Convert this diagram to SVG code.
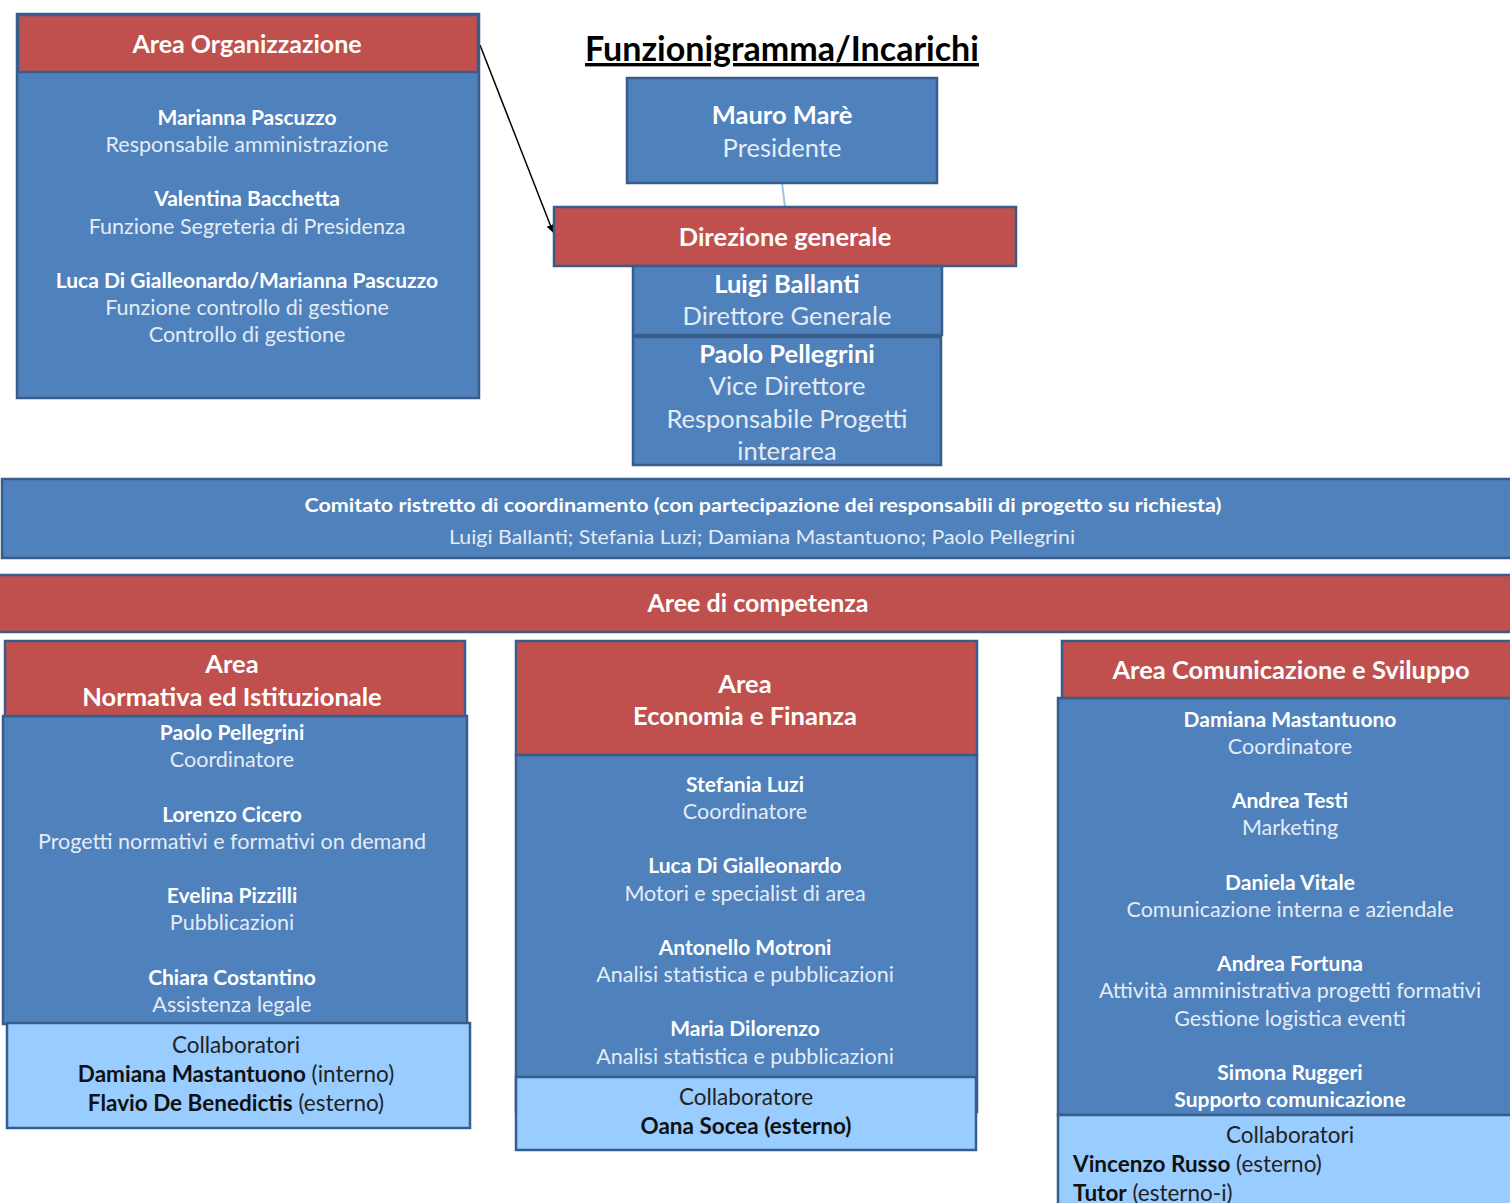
<svg xmlns="http://www.w3.org/2000/svg" width="1510" height="1203" viewBox="0 0 1510 1203">
<style>
text{font-family:Lato,"Open Sans","Liberation Sans",sans-serif;text-anchor:middle}
.blue{fill:#4F81BD;stroke:#385D8A;stroke-width:2.5}
.red{fill:#C0504D;stroke:#385D8A;stroke-width:2.5}
.lb{fill:#99CCFF;stroke:#385D8A;stroke-width:2.5}
.h{fill:#fff;font-weight:bold;font-size:25px}
.hb{fill:#fff;font-weight:bold;font-size:25.5px}
.hr{fill:#E4ECF6;font-size:25.5px}
.n{fill:#fff;font-weight:bold;font-size:21px}
.r{fill:#E4ECF6;font-size:21.5px}
.c{fill:#222;font-size:22.5px}
.cb{fill:#111;font-weight:bold;font-size:22.5px}
</style>
<defs>
<marker id="arr" viewBox="0 0 10 10" refX="9" refY="5" markerWidth="8" markerHeight="8" orient="auto" markerUnits="userSpaceOnUse">
<path d="M0,0 L10,5 L0,10 z" fill="#000"/>
</marker>
</defs>
<rect width="1510" height="1203" fill="#fff"/>
<text x="782" y="61" style="font-weight:bold;font-size:34px;fill:#000;text-decoration:underline">Funzionigramma/Incarichi</text>
<g id="connectors">
<line x1="480" y1="45" x2="553" y2="232" stroke="#000" stroke-width="1.5" marker-end="url(#arr)"/>
<line x1="782" y1="183" x2="785" y2="207" stroke="#9DC3E6" stroke-width="2"/>
</g>
<g id="area-organizzazione">
<rect class="blue" x="17" y="14" width="462" height="384"/>
<rect class="red" x="18" y="15" width="460" height="57"/>
<text class="h" x="247" y="53">Area Organizzazione</text>
<text class="n" x="247" y="125">Marianna Pascuzzo</text>
<text class="r" x="247" y="152">Responsabile amministrazione</text>
<text class="n" x="247" y="206">Valentina Bacchetta</text>
<text class="r" x="247" y="234">Funzione Segreteria di Presidenza</text>
<text class="n" x="247" y="288">Luca Di Gialleonardo/Marianna Pascuzzo</text>
<text class="r" x="247" y="315">Funzione controllo di gestione</text>
<text class="r" x="247" y="342">Controllo di gestione</text>
</g>
<g id="presidente">
<rect class="blue" x="627" y="78" width="310" height="105"/>
<text class="hb" x="782" y="124">Mauro Marè</text>
<text class="hr" x="782" y="157">Presidente</text>
</g>
<g id="direzione-generale">
<rect class="red" x="554" y="207" width="462" height="59"/>
<text class="hb" x="785" y="246">Direzione generale</text>
</g>
<g id="direttore-generale">
<rect class="blue" x="633" y="266" width="309" height="69"/>
<text class="hb" x="787" y="293">Luigi  Ballanti</text>
<text class="hr" x="787" y="325">Direttore Generale</text>
</g>
<g id="vice-direttore">
<rect class="blue" x="633" y="337" width="308" height="128"/>
<text class="hb" x="787" y="363">Paolo Pellegrini</text>
<text class="hr" x="787" y="395">Vice Direttore</text>
<text class="hr" x="787" y="428">Responsabile Progetti</text>
<text class="hr" x="787" y="460">interarea</text>
</g>
<g id="comitato">
<rect class="blue" x="2" y="479" width="1510" height="79"/>
<text class="n" x="763" y="512" style="font-size:19px" textLength="917" lengthAdjust="spacingAndGlyphs">Comitato ristretto di coordinamento (con partecipazione dei responsabili di progetto su richiesta)</text>
<text class="r" x="762" y="544" style="font-size:19px" textLength="626" lengthAdjust="spacingAndGlyphs">Luigi Ballanti; Stefania Luzi;  Damiana Mastantuono; Paolo Pellegrini</text>
</g>
<g id="aree-competenza">
<rect class="red" x="-2" y="575" width="1514" height="57"/>
<text class="h" x="758" y="612">Aree di competenza</text>
</g>
<g id="area-normativa">
<rect class="blue" x="3" y="716" width="464" height="308"/>
<rect class="red" x="5" y="641" width="460" height="75"/>
<text class="hb" x="232" y="673">Area</text>
<text class="hb" x="232" y="706">Normativa ed Istituzionale</text>
<text class="n" x="232" y="740">Paolo Pellegrini</text>
<text class="r" x="232" y="767">Coordinatore</text>
<text class="n" x="232" y="822">Lorenzo Cicero</text>
<text class="r" x="232" y="849">Progetti normativi e formativi on demand</text>
<text class="n" x="232" y="903">Evelina Pizzilli</text>
<text class="r" x="232" y="930">Pubblicazioni</text>
<text class="n" x="232" y="985">Chiara Costantino</text>
<text class="r" x="232" y="1012">Assistenza legale</text>
<rect class="lb" x="7" y="1023" width="463" height="105"/>
<text class="c" x="236" y="1053">Collaboratori</text>
<text class="c" x="236" y="1082"><tspan class="cb">Damiana Mastantuono</tspan> (interno)</text>
<text class="c" x="236" y="1111"><tspan class="cb">Flavio De Benedictis</tspan> (esterno)</text>
</g>
<g id="area-economia">
<rect class="blue" x="516" y="755" width="461" height="357"/>
<rect class="red" x="516" y="641" width="461" height="114"/>
<text class="hb" x="745" y="693">Area</text>
<text class="hb" x="745" y="725">Economia e Finanza</text>
<text class="n" x="745" y="792">Stefania Luzi</text>
<text class="r" x="745" y="819">Coordinatore</text>
<text class="n" x="745" y="873">Luca Di Gialleonardo</text>
<text class="r" x="745" y="901">Motori e specialist di area</text>
<text class="n" x="745" y="955">Antonello Motroni</text>
<text class="r" x="745" y="982">Analisi statistica  e pubblicazioni</text>
<text class="n" x="745" y="1036">Maria Dilorenzo</text>
<text class="r" x="745" y="1064">Analisi statistica  e pubblicazioni</text>
<rect class="lb" x="516" y="1077" width="460" height="73"/>
<text class="c" x="746" y="1105">Collaboratore</text>
<text class="cb" x="746" y="1134">Oana Socea (esterno)</text>
</g>
<g id="area-comunicazione">
<rect class="blue" x="1058" y="698" width="454" height="417"/>
<rect class="red" x="1062" y="641" width="450" height="57"/>
<text class="hb" x="1291" y="679">Area Comunicazione e Sviluppo</text>
<text class="n" x="1290" y="727">Damiana Mastantuono</text>
<text class="r" x="1290" y="754">Coordinatore</text>
<text class="n" x="1290" y="808">Andrea Testi</text>
<text class="r" x="1290" y="835">Marketing</text>
<text class="n" x="1290" y="890">Daniela Vitale</text>
<text class="r" x="1290" y="917">Comunicazione interna e aziendale</text>
<text class="n" x="1290" y="971">Andrea Fortuna</text>
<text class="r" x="1290" y="998">Attività amministrativa  progetti formativi</text>
<text class="r" x="1290" y="1026">Gestione logistica eventi</text>
<text class="n" x="1290" y="1080">Simona Ruggeri</text>
<text class="n" x="1290" y="1107">Supporto comunicazione</text>
<rect class="lb" x="1058" y="1115" width="454" height="92"/>
<text class="c" x="1290" y="1143">Collaboratori</text>
<text class="c" x="1073" y="1172" style="text-anchor:start"><tspan class="cb">Vincenzo Russo</tspan> (esterno)</text>
<text class="c" x="1073" y="1201" style="text-anchor:start"><tspan class="cb">Tutor</tspan> (esterno-i)</text>
</g>
</svg>
